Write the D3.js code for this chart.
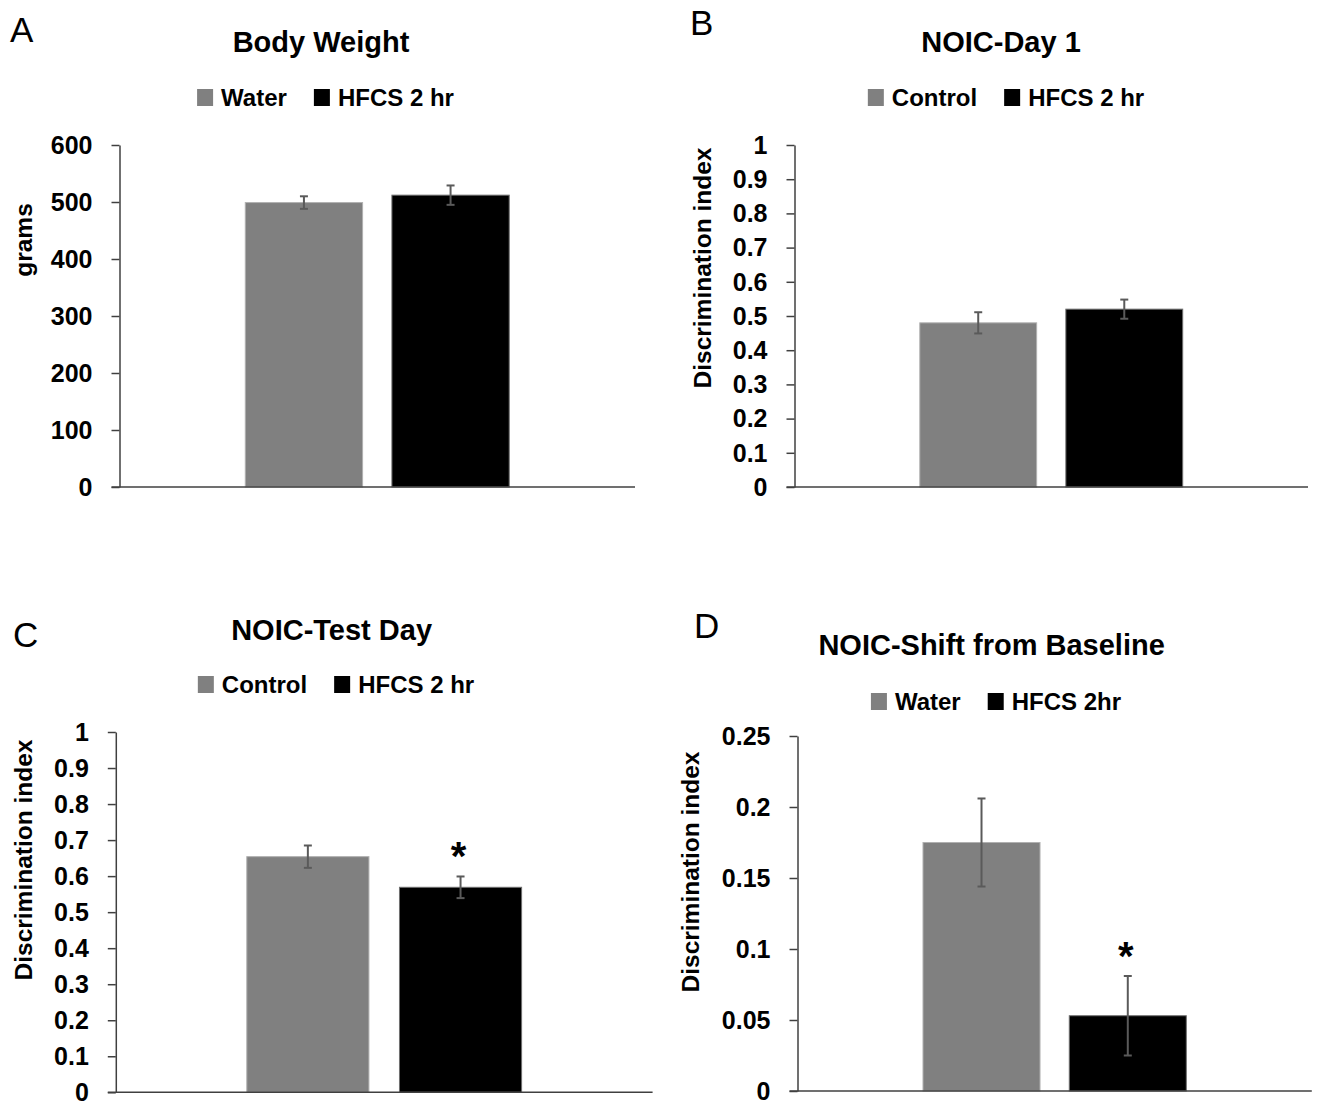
<!DOCTYPE html>
<html>
<head>
<meta charset="utf-8">
<script src="https://cdn.jsdelivr.net/npm/d3@7"></script>
<style>
  body { margin: 0; background: #fff; }
  svg { display: block; font-family: "Liberation Sans", Arial, sans-serif; }
  .tick line { stroke: #404040; stroke-width: 1.5; }
  .domain { stroke: #404040; stroke-width: 1.5; }
</style>
</head>
<body>
<svg id="chart"></svg>
<script>
// data - panel A
const seriesA = ["Water", "HFCS 2 hr"];
const valuesA = [499, 512];
const errorsA = [11, 17];
const ticksA = [0, 100, 200, 300, 400, 500, 600];
const sigA = [false, false];

// data - panel B
const seriesB = ["Control", "HFCS 2 hr"];
const valuesB = [0.48, 0.52];
const errorsB = [0.031, 0.028];
const ticksB = [0, 0.1, 0.2, 0.3, 0.4, 0.5, 0.6, 0.7, 0.8, 0.9, 1];
const sigB = [false, false];

// data - panel C
const seriesC = ["Control", "HFCS 2 hr"];
const valuesC = [0.654, 0.569];
const errorsC = [0.031, 0.03];
const ticksC = [0, 0.1, 0.2, 0.3, 0.4, 0.5, 0.6, 0.7, 0.8, 0.9, 1];
const sigC = [false, true];

// data - panel D
const seriesD = ["Water", "HFCS 2hr"];
const valuesD = [0.175, 0.053];
const errorsD = [0.031, 0.028];
const ticksD = [0, 0.05, 0.1, 0.15, 0.2, 0.25];
const sigD = [false, true];

const colors = ["#808080", "#000000"];
const strokes = ["#b0b0b0", "#6f6f6f"];

// layout
const panels = [
    { letter: "A", title: "Body Weight", ylabel: "grams",
      series: seriesA, values: valuesA, errors: errorsA, ticks: ticksA, sig: sigA,
      left: 119.5, right: 635, top: 145, bottom: 487,
      titleX: 321, titleY: 52, legendX: 325.5, legendY: 106,
      letterX: 10, letterY: 42, ylabelX: 23, ylabelY: 240 },
    { letter: "B", title: "NOIC-Day 1", ylabel: "Discrimination index",
      series: seriesB, values: valuesB, errors: errorsB, ticks: ticksB, sig: sigB,
      left: 794.5, right: 1308, top: 145, bottom: 487,
      titleX: 1001, titleY: 52, legendX: 1006, legendY: 106,
      letterX: 690, letterY: 35, ylabelX: 702, ylabelY: 268 },
    { letter: "C", title: "NOIC-Test Day", ylabel: "Discrimination index",
      series: seriesC, values: valuesC, errors: errorsC, ticks: ticksC, sig: sigC,
      left: 115.8, right: 652.6, top: 732, bottom: 1092.3,
      titleX: 331.6, titleY: 640, legendX: 336, legendY: 693,
      letterX: 13, letterY: 647, ylabelX: 23, ylabelY: 860 },
    { letter: "D", title: "NOIC-Shift from Baseline", ylabel: "Discrimination index",
      series: seriesD, values: valuesD, errors: errorsD, ticks: ticksD, sig: sigD,
      left: 797.5, right: 1311.8, top: 736, bottom: 1091,
      titleX: 991.6, titleY: 655, legendX: 996, legendY: 710,
      letterX: 694, letterY: 638, ylabelX: 690, ylabelY: 872 }
];

const svg = d3.select("#chart")
    .attr("width", 1321)
    .attr("height", 1104);

svg.append("rect").attr("width", 1321).attr("height", 1104).attr("fill", "#fff");

panels.forEach(function (p) {
    const g = svg.append("g");

    // scales
    const y = d3.scaleLinear()
        .domain([0, d3.max(p.ticks)])
        .range([p.bottom, p.top]);

    const xGroup = d3.scaleBand()
        .domain(["group"])
        .range([p.left, p.right])
        .paddingOuter(0.4766);

    const x = d3.scaleBand()
        .domain(p.series)
        .range([xGroup("group"), xGroup("group") + xGroup.bandwidth()])
        .paddingInner(0.2);

    // panel letter
    g.append("text")
        .attr("x", p.letterX)
        .attr("y", p.letterY)
        .attr("font-size", 35)
        .text(p.letter);

    // title
    g.append("text")
        .attr("x", p.titleX)
        .attr("y", p.titleY)
        .attr("text-anchor", "middle")
        .attr("font-size", 29)
        .attr("font-weight", "bold")
        .text(p.title);

    // legend
    const leg = g.append("g");
    let cx = 0;
    p.series.forEach(function (s, i) {
        leg.append("rect")
            .attr("x", cx)
            .attr("y", p.legendY - 17)
            .attr("width", 16)
            .attr("height", 17)
            .attr("fill", colors[i]);
        const t = leg.append("text")
            .attr("x", cx + 24)
            .attr("y", p.legendY)
            .attr("font-size", 24)
            .attr("font-weight", "bold")
            .text(s);
        cx += 24 + t.node().getComputedTextLength() + 27;
    });
    const legW = cx - 27;
    leg.attr("transform", "translate(" + (p.legendX - legW / 2) + ",0)");

    // y label
    g.append("text")
        .attr("transform", "translate(" + p.ylabelX + "," + p.ylabelY + ") rotate(-90)")
        .attr("text-anchor", "middle")
        .attr("dy", "0.35em")
        .attr("font-size", 24.5)
        .attr("font-weight", "bold")
        .text(p.ylabel);

    // bars
    g.selectAll(".bar")
        .data(p.values)
        .enter().append("rect")
        .attr("class", "bar")
        .attr("x", function (d, i) { return x(p.series[i]); })
        .attr("y", function (d) { return y(d); })
        .attr("width", x.bandwidth())
        .attr("height", function (d) { return p.bottom - y(d); })
        .attr("fill", function (d, i) { return colors[i]; })
        .attr("stroke", function (d, i) { return strokes[i]; })
        .attr("stroke-width", 1);

    // error bars
    p.values.forEach(function (v, i) {
        const cxb = x(p.series[i]) + x.bandwidth() / 2;
        const e = p.errors[i];
        const eb = g.append("g")
            .attr("stroke", "#5a5a5a")
            .attr("stroke-width", 2);
        eb.append("line")
            .attr("x1", cxb).attr("x2", cxb)
            .attr("y1", y(v + e)).attr("y2", y(v - e));
        eb.append("line")
            .attr("x1", cxb - 4).attr("x2", cxb + 4)
            .attr("y1", y(v + e)).attr("y2", y(v + e));
        eb.append("line")
            .attr("x1", cxb - 4).attr("x2", cxb + 4)
            .attr("y1", y(v - e)).attr("y2", y(v - e));

        if (p.sig[i]) {
            g.append("text")
                .attr("x", cxb - 2)
                .attr("y", y(v + e) - 6)
                .attr("text-anchor", "middle")
                .attr("font-size", 40)
                .attr("font-weight", "bold")
                .text("*");
        }
    });

    // y axis
    g.append("g")
        .attr("transform", "translate(" + p.left + ",0)")
        .call(d3.axisLeft(y)
            .tickValues(p.ticks)
            .tickFormat(d3.format("~g"))
            .tickSize(8)
            .tickSizeOuter(0)
            .tickPadding(19))
        .call(function (a) {
            a.selectAll("text")
                .attr("font-size", 25)
                .attr("font-weight", "bold")
                .attr("fill", "#000")
                .attr("dy", "0.33em")
                .attr("font-family", "'Liberation Sans', Arial, sans-serif");
        });

    // x axis
    g.append("line")
        .attr("x1", p.left - 8)
        .attr("x2", p.right)
        .attr("y1", p.bottom)
        .attr("y2", p.bottom)
        .attr("stroke", "#404040")
        .attr("stroke-width", 1.5);
});
</script>
</body>
</html>
